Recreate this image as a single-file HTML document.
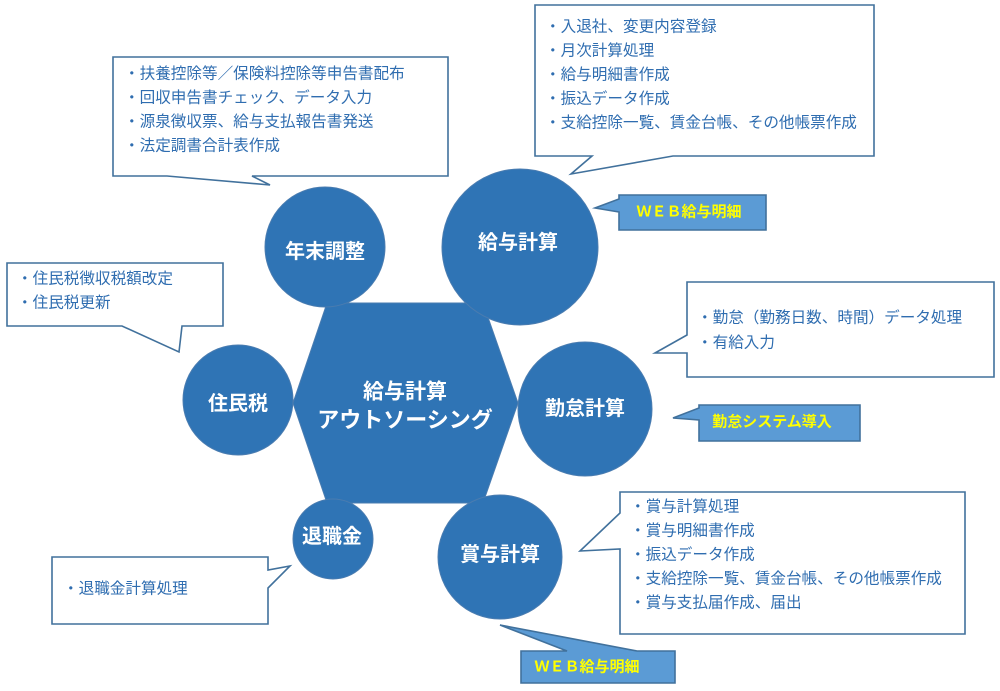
<!DOCTYPE html>
<html>
<head>
<meta charset="utf-8">
<style>
  html,body{margin:0;padding:0;background:#fff;}
  svg{display:block;}
  .t{font-family:"Liberation Sans","Noto Sans CJK JP",sans-serif;font-size:15.6px;fill:#2f6db0;}
  .c{font-family:"Liberation Sans","Noto Sans CJK JP",sans-serif;font-size:20px;font-weight:bold;fill:#fff;}
  .y{font-family:"Liberation Sans","Noto Sans CJK JP",sans-serif;font-size:15px;font-weight:bold;fill:#ffff00;}
  .box{fill:#fff;stroke:#41719c;stroke-width:1.6;}
  .wb{fill:#5b9bd5;stroke:#41719c;stroke-width:1.6;}
  .circ{fill:#2f74b5;stroke:#4a7cb0;stroke-width:1;}
</style>
</head>
<body>
<svg width="1000" height="691" viewBox="0 0 1000 691" xmlns="http://www.w3.org/2000/svg">
  <!-- hexagon -->
  <polygon points="327,303 483,303 518,403 483,503 327,503 293,403" fill="#2f74b5" stroke="#4a7cb0" stroke-width="1"/>

  <!-- circles -->
  <circle class="circ" cx="325" cy="247" r="60"/>
  <circle class="circ" cx="520" cy="247" r="78"/>
  <circle class="circ" cx="238" cy="400" r="55"/>
  <circle class="circ" cx="585" cy="409" r="67"/>
  <circle class="circ" cx="333" cy="539" r="40"/>
  <circle class="circ" cx="500" cy="557" r="62"/>

  <!-- circle labels -->
  <text class="c" x="325" y="252" text-anchor="middle" dominant-baseline="central">年末調整</text>
  <text class="c" x="518" y="243" text-anchor="middle" dominant-baseline="central">給与計算</text>
  <text class="c" x="238" y="404" text-anchor="middle" dominant-baseline="central">住民税</text>
  <text class="c" x="585" y="409" text-anchor="middle" dominant-baseline="central">勤怠計算</text>
  <text class="c" x="332" y="537" text-anchor="middle" dominant-baseline="central">退職金</text>
  <text class="c" x="500" y="555" text-anchor="middle" dominant-baseline="central">賞与計算</text>
  <text class="c" x="405" y="392" text-anchor="middle" dominant-baseline="central" style="font-size:21px">給与計算</text>
  <text class="c" x="405" y="420" text-anchor="middle" dominant-baseline="central" style="font-size:22px">アウトソーシング</text>

  <!-- 年末調整 callout -->
  <path class="box" d="M113,57 H448 V176 H252 L270,185 L167,176 H113 Z"/>
  <text class="t" x="124" y="74" dominant-baseline="central">・扶養控除等／保険料控除等申告書配布</text>
  <text class="t" x="124" y="98" dominant-baseline="central">・回収申告書チェック、データ入力</text>
  <text class="t" x="124" y="122" dominant-baseline="central">・源泉徴収票、給与支払報告書発送</text>
  <text class="t" x="124" y="146" dominant-baseline="central">・法定調書合計表作成</text>

  <!-- 給与計算 callout -->
  <path class="box" d="M535,5 H874 V156 H673 L571,174 L592,156 H535 Z"/>
  <text class="t" x="545" y="27" dominant-baseline="central">・入退社、変更内容登録</text>
  <text class="t" x="545" y="51" dominant-baseline="central">・月次計算処理</text>
  <text class="t" x="545" y="75" dominant-baseline="central">・給与明細書作成</text>
  <text class="t" x="545" y="99" dominant-baseline="central">・振込データ作成</text>
  <text class="t" x="545" y="123" dominant-baseline="central">・支給控除一覧、賃金台帳、その他帳票作成</text>

  <!-- WEB top -->
  <path class="wb" d="M619,195 H766 V230 H619 V212 L595,208 L619,199 Z"/>
  <text class="y" x="689" y="212" text-anchor="middle" dominant-baseline="central">ＷＥＢ給与明細</text>

  <!-- 住民税 callout -->
  <path class="box" d="M7,263 H223 V326 H182 L179,352 L122,326 H7 Z"/>
  <text class="t" x="17" y="279" dominant-baseline="central">・住民税徴収税額改定</text>
  <text class="t" x="17" y="303" dominant-baseline="central">・住民税更新</text>

  <!-- 勤怠計算 callout -->
  <path class="box" d="M687,282 H994 V377 H687 V353 L655,353 L687,335 Z"/>
  <text class="t" x="697" y="318" dominant-baseline="central">・勤怠（勤務日数、時間）データ処理</text>
  <text class="t" x="697" y="343" dominant-baseline="central">・有給入力</text>

  <!-- 勤怠システム導入 -->
  <path class="wb" d="M699,405 H860 V441 H699 V420 L673,418 L699,408 Z"/>
  <text class="y" x="772" y="422" text-anchor="middle" dominant-baseline="central">勤怠システム導入</text>

  <!-- 賞与計算 callout -->
  <path class="box" d="M620,492 H965 V634 H620 V549 L580,551 L620,513 Z"/>
  <text class="t" x="630" y="507" dominant-baseline="central">・賞与計算処理</text>
  <text class="t" x="630" y="531" dominant-baseline="central">・賞与明細書作成</text>
  <text class="t" x="630" y="555" dominant-baseline="central">・振込データ作成</text>
  <text class="t" x="630" y="579" dominant-baseline="central">・支給控除一覧、賃金台帳、その他帳票作成</text>
  <text class="t" x="630" y="603" dominant-baseline="central">・賞与支払届作成、届出</text>

  <!-- WEB bottom -->
  <path class="wb" d="M521,651 H567 L500,625 L637,651 H675 V683 H521 Z"/>
  <text class="y" x="587" y="667" text-anchor="middle" dominant-baseline="central">ＷＥＢ給与明細</text>

  <!-- 退職金 callout -->
  <path class="box" d="M52,557 H268 V570 L290,566 L268,588 V624 H52 Z"/>
  <text class="t" x="63" y="589" dominant-baseline="central">・退職金計算処理</text>
</svg>
</body>
</html>
